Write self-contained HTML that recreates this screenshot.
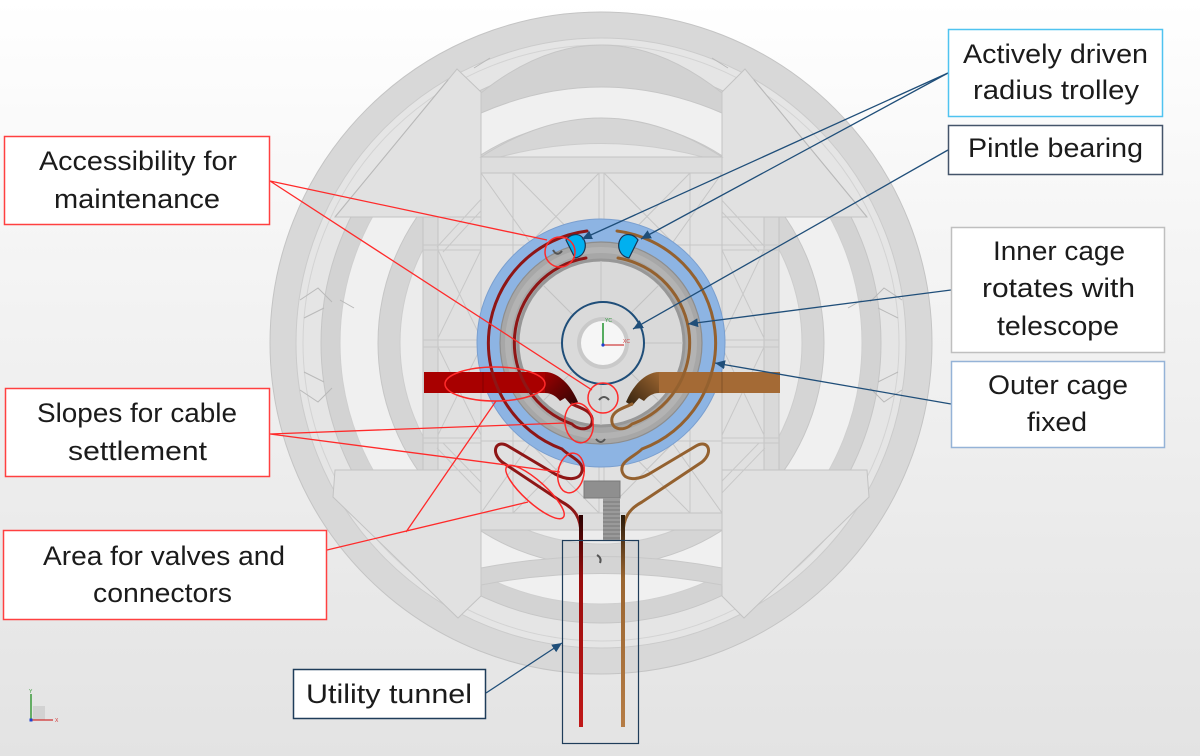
<!DOCTYPE html>
<html><head><meta charset="utf-8"><style>
html,body{margin:0;padding:0;}
body{width:1200px;height:756px;overflow:hidden;background:#fff;}
svg{display:block;}
text{font-family:"Liberation Sans",Arial,sans-serif;fill:#1b1b1b;}
</style></head><body>
<svg width="1200" height="756" viewBox="0 0 1200 756" xmlns="http://www.w3.org/2000/svg">
<defs>
<linearGradient id="bg" x1="0" y1="0" x2="0" y2="1">
<stop offset="0" stop-color="#ffffff"/>
<stop offset="0.35" stop-color="#f4f4f4"/>
<stop offset="1" stop-color="#e3e3e3"/>
</linearGradient>
<linearGradient id="wr" x1="0" y1="0" x2="1" y2="1">
<stop offset="0" stop-color="#9e0000"/>
<stop offset="1" stop-color="#2c0606"/>
</linearGradient>
<linearGradient id="wb" x1="0" y1="0" x2="1" y2="1">
<stop offset="0" stop-color="#9c6530"/>
<stop offset="1" stop-color="#33220f"/>
</linearGradient>
<linearGradient id="tr" gradientUnits="userSpaceOnUse" x1="0" y1="515" x2="0" y2="727">
<stop offset="0" stop-color="#2a0000"/>
<stop offset="0.3" stop-color="#9a0c0c"/>
<stop offset="1" stop-color="#c01818"/>
</linearGradient>
<linearGradient id="tb" gradientUnits="userSpaceOnUse" x1="0" y1="515" x2="0" y2="727">
<stop offset="0" stop-color="#2a1a0a"/>
<stop offset="0.3" stop-color="#9a6530"/>
<stop offset="1" stop-color="#b57c45"/>
</linearGradient>
<marker id="ar" markerUnits="userSpaceOnUse" markerWidth="11" markerHeight="9" refX="10" refY="4.5" orient="auto">
<path d="M0,0 L10,4.5 L0,9 Z" fill="#1f4e79"/>
</marker>
<clipPath id="inner"><circle cx="601" cy="343" r="82"/></clipPath>
</defs>

<rect width="1200" height="756" fill="url(#bg)"/>

<!-- big rings -->
<g stroke-width="1">
<circle cx="601" cy="343" r="331" fill="#d8d8d8" stroke="#c4c4c4"/>
<circle cx="601" cy="343" r="305" fill="#e5e5e5" stroke="#cbcbcb"/>
<circle cx="601" cy="343" r="298" fill="none" stroke="#d3d3d3"/>
<circle cx="601" cy="343" r="280" fill="#d3d3d3" stroke="#c6c6c6"/>
<circle cx="601" cy="343" r="261" fill="#f0f0f0" stroke="#cfcfcf"/>
<circle cx="601" cy="343" r="223" fill="#d5d5d5" stroke="#c6c6c6"/>
<circle cx="601" cy="343" r="201" fill="#ececec" stroke="#cdcdcd"/>
</g>

<!-- wings -->
<g fill="#e1e1e1" stroke="#c3c3c3" stroke-width="1">
<polygon points="457,69 481,92 481,217 335,217"/>
<polygon points="745,69 722,92 722,217 867,217"/>
<polygon points="335,470 481,470 481,596 458,618 333,497"/>
<polygon points="867,470 722,470 722,596 744,618 869,497"/>
</g>
<g stroke="#b9b9b9" stroke-width="1" fill="none">
<path d="M448,80 L335,217"/><path d="M754,80 L867,217"/>
<path d="M300,300 l18,-12 l14,14 M304,318 l20,-10 M340,300 l14,8"/>
<path d="M902,300 l-18,-12 l-14,14 M898,318 l-20,-10 M862,300 l-14,8"/>
<path d="M300,390 l18,12 l14,-14 M304,372 l20,10"/>
<path d="M902,390 l-18,12 l-14,-14 M898,372 l-20,10"/>
<path d="M490,58 l-16,10 M712,58 l16,10"/>
</g>

<!-- outer frame -->
<rect x="423" y="217" width="356" height="253" fill="#e0e0e0" stroke="#c4c4c4"/>
<rect x="423" y="217" width="15" height="253" fill="#d9d9d9" stroke="#c4c4c4"/>
<rect x="764" y="217" width="15" height="253" fill="#d9d9d9" stroke="#c4c4c4"/>
<g stroke="#c8c8c8" stroke-width="1" fill="none">
<path d="M423,245 H779 M423,250 H779 M423,340 H779 M423,347 H779 M423,438 H779 M423,443 H779"/>
<path d="M438,250 L481,338 M481,250 L438,338 M438,347 L481,435 M481,347 L438,435"/>
<path d="M764,250 L722,338 M722,250 L764,338 M764,347 L722,435 M722,347 L764,435"/>
<path d="M437,247 L508,170 M443,252 L513,176 M437,448 L508,522 M443,443 L513,515"/>
<path d="M765,247 L694,170 M759,252 L689,176 M765,448 L694,522 M759,443 L689,515"/>
</g>

<!-- top arcs between wings -->
<path d="M481,93 Q601,-3 722,93 L722,113 Q601,61 481,113 Z" fill="#d2d2d2" stroke="#c6c6c6"/>
<path d="M481,157 Q601,79 722,157 Z" fill="#d6d6d6" stroke="#c6c6c6"/>
<path d="M500,157 Q601,130 703,157 Z" fill="#e8e8e8" stroke="#cccccc"/>

<!-- inner tower -->
<rect x="481" y="157" width="241" height="373" fill="#e1e1e1" stroke="#c3c3c3"/>
<rect x="481" y="157" width="241" height="16" fill="#dddddd" stroke="#c3c3c3"/>
<rect x="481" y="513" width="241" height="17" fill="#dddddd" stroke="#c3c3c3"/>
<g stroke="#c6c6c6" stroke-width="1" fill="none">
<path d="M513,173 V513 M690,173 V513 M599,173 V513 M604,173 V513"/>
<path d="M513,173 L599,260 M599,173 L513,260 M604,173 L690,260 M690,173 L604,260"/>
<path d="M513,513 L599,426 M599,513 L513,426 M604,513 L690,426 M690,513 L604,426"/>
<path d="M481,173 L722,513 M722,173 L481,513"/>
<path d="M481,245 H722 M481,343 H722 M481,441 H722"/>
</g>

<!-- bottom arcs below tower -->
<path d="M481,568 Q601,545 722,568 L722,585 Q601,562 481,585 Z" fill="#d4d4d4" stroke="#c8c8c8"/>

<!-- blue outer cage ring -->
<circle cx="601" cy="343" r="124" fill="#8db4e3" stroke="#7a9fcf" stroke-width="1"/>
<!-- gray inner cage ring -->
<circle cx="601" cy="343" r="101" fill="#a7a7a7" stroke="#8d8d8d" stroke-width="1.2"/>
<circle cx="601" cy="343" r="93" fill="none" stroke="#b3b3b3" stroke-width="6"/>
<circle cx="601" cy="343" r="83" fill="#d9d9d9" stroke="#979797" stroke-width="3"/>
<g clip-path="url(#inner)" stroke="#c2c2c2" stroke-width="1">
<path d="M481,223 L721,463 M721,223 L481,463 M519,343 H683 M601,261 V425"/>
</g>

<!-- pintle bearing -->
<circle cx="603" cy="343" r="41" fill="#dadada" stroke="#1f4e79" stroke-width="2"/>
<circle cx="603" cy="343" r="26" fill="#c9c9c9"/>
<circle cx="603" cy="343" r="22" fill="#f6f6f6"/>
<line x1="603" y1="345" x2="603" y2="323" stroke="#2e9a3a" stroke-width="1.6"/>
<line x1="603" y1="345" x2="624" y2="345" stroke="#d04040" stroke-width="1.2"/>
<circle cx="603" cy="345" r="1.6" fill="#2040d0"/>
<text x="605" y="322" font-size="5" style="fill:#2e9a3a">YC</text>
<text x="623" y="343" font-size="5" style="fill:#d04040">XC</text>

<!-- red bar & wedge -->
<rect x="424" y="372" width="121" height="21" fill="#a80000"/>
<line x1="483" y1="372" x2="483" y2="393" stroke="#7a0000" stroke-width="0.8"/>
<path d="M545,372 C557,372 570,383 578,402 L572,406 L565,398 L560,401 C556,396 551,393 545,393 Z" fill="url(#wr)"/>

<!-- red cables -->
<g fill="none" stroke="#8e1616" stroke-width="3" stroke-linecap="round">
<path d="M587,231 A113,113 0 0 0 562,449 C570,457 584,461 582,471 C580,480 568,481 555,474 L508,446 C496,439 490,452 502,462 L562,502 C575,509 581,518 581,535"/>
<path d="M586,258 A86,86 0 0 0 572,424 C580,432 594,430 592,418 C590,410 580,408 572,404"/>
</g>
<rect x="579" y="515" width="4" height="212" fill="url(#tr)"/>
<!-- left trolley -->
<path d="M566,240 L575,258 C586,256 588,243 582,237 C578,233 570,234 566,240 Z" fill="#00b0f0" stroke="#1a3552" stroke-width="1.2"/>

<!-- brown side (mirror) -->
<g transform="translate(1204,0) scale(-1,1)">
<rect x="424" y="372" width="121" height="21" fill="#a46a35"/>
<line x1="482" y1="372" x2="482" y2="393" stroke="#7a4e24" stroke-width="0.8"/>
<path d="M545,372 C557,372 570,383 578,402 L572,406 L565,398 L560,401 C556,396 551,393 545,393 Z" fill="url(#wb)"/>
<g fill="none" stroke="#94612f" stroke-width="3" stroke-linecap="round">
<path d="M587,231 A113,113 0 0 0 562,449 C570,457 584,461 582,471 C580,480 568,481 555,474 L508,446 C496,439 490,452 502,462 L562,502 C575,509 581,518 581,535"/>
<path d="M586,258 A86,86 0 0 0 572,424 C580,432 594,430 592,418 C590,410 580,408 572,404"/>
</g>
<rect x="579" y="515" width="4" height="212" fill="url(#tb)"/>
<path d="M566,240 L575,258 C586,256 588,243 582,237 C578,233 570,234 566,240 Z" fill="#00b0f0" stroke="#1a3552" stroke-width="1.2"/>
</g>

<!-- gray block / hatched column -->
<rect x="584" y="481" width="36" height="17" fill="#8f8f8f" stroke="#7a7a7a"/>
<rect x="603" y="498" width="17" height="42" fill="#9a9a9a"/>
<g stroke="#6e6e6e" stroke-width="0.7">
<path d="M603,502 H620 M603,506 H620 M603,510 H620 M603,514 H620 M603,518 H620 M603,522 H620 M603,526 H620 M603,530 H620 M603,534 H620 M603,538 H620"/>
</g>

<!-- small brackets -->
<g fill="none" stroke="#555" stroke-width="2">
<path d="M553,250 q4,7 9,1"/>
<path d="M599,400 q5,-6 10,0"/>
<path d="M596,439 q5,6 9,0"/>
<path d="M597,555 q5,3 3,8"/>
</g>

<!-- tunnel rect -->
<rect x="562.5" y="540.5" width="76" height="203" fill="none" stroke="#1f3d5a" stroke-width="1.2"/>

<!-- red annotation ellipses -->
<g fill="none" stroke="#ff2a2a" stroke-width="1.5">
<circle cx="560" cy="252" r="15"/>
<ellipse cx="495" cy="384" rx="50" ry="17"/>
<circle cx="603" cy="398" r="15"/>
<ellipse cx="579" cy="423" rx="14" ry="20" transform="rotate(-10 579 423)"/>
<ellipse cx="571" cy="473" rx="13" ry="20" transform="rotate(10 571 473)"/>
<ellipse cx="535" cy="492" rx="38" ry="11" transform="rotate(42 535 492)"/>
</g>
<!-- red connector lines -->
<g stroke="#ff2a2a" stroke-width="1.3" fill="none">
<path d="M270,181 L547,240 M270,181 L592,390"/>
<path d="M270,434 L565,423 M270,434 L560,472"/>
<path d="M327,550 L528,502 M406,532 L496,401"/>
</g>

<!-- blue connectors -->
<g stroke="#1f4e79" stroke-width="1.3" fill="none" marker-end="url(#ar)">
<line x1="948" y1="73" x2="582" y2="239"/>
<line x1="948" y1="73" x2="641" y2="239"/>
<line x1="948" y1="150" x2="633" y2="329"/>
<line x1="951" y1="290" x2="688" y2="324"/>
<line x1="951" y1="404" x2="715" y2="363"/>
<line x1="486" y1="693" x2="562" y2="643"/>
</g>

<!-- label boxes -->
<g fill="#ffffff" stroke-width="1.5">
<rect x="4.5" y="136.5" width="265" height="88" stroke="#ff4040"/>
<rect x="5.5" y="388.5" width="264" height="88" stroke="#ff4040"/>
<rect x="3.5" y="530.5" width="323" height="89" stroke="#ff4040"/>
<rect x="948.5" y="29.5" width="214" height="87" stroke="#4fc3f0"/>
<rect x="948.5" y="125.5" width="214" height="49" stroke="#44546a"/>
<rect x="951.5" y="227.5" width="213" height="125" stroke="#bfbfbf"/>
<rect x="951.5" y="361.5" width="213" height="86" stroke="#95b3d7"/>
<rect x="293.5" y="669.5" width="192" height="49" stroke="#1f3d5a"/>
</g>

<g font-size="27">
<text x="39" y="170" textLength="198" lengthAdjust="spacingAndGlyphs">Accessibility for</text>
<text x="54" y="208" textLength="166" lengthAdjust="spacingAndGlyphs">maintenance</text>
<text x="37" y="422" textLength="200" lengthAdjust="spacingAndGlyphs">Slopes for cable</text>
<text x="68" y="460" textLength="139" lengthAdjust="spacingAndGlyphs">settlement</text>
<text x="43" y="565" textLength="242" lengthAdjust="spacingAndGlyphs">Area for valves and</text>
<text x="93" y="602" textLength="139" lengthAdjust="spacingAndGlyphs">connectors</text>
<text x="963" y="63" textLength="185" lengthAdjust="spacingAndGlyphs">Actively driven</text>
<text x="973" y="99" textLength="166" lengthAdjust="spacingAndGlyphs">radius trolley</text>
<text x="968" y="157" textLength="175" lengthAdjust="spacingAndGlyphs">Pintle bearing</text>
<text x="993" y="260" textLength="132" lengthAdjust="spacingAndGlyphs">Inner cage</text>
<text x="982" y="297" textLength="153" lengthAdjust="spacingAndGlyphs">rotates with</text>
<text x="997" y="335" textLength="122" lengthAdjust="spacingAndGlyphs">telescope</text>
<text x="988" y="394" textLength="140" lengthAdjust="spacingAndGlyphs">Outer cage</text>
<text x="1027" y="431" textLength="60" lengthAdjust="spacingAndGlyphs">fixed</text>
<text x="306" y="703" textLength="166" lengthAdjust="spacingAndGlyphs">Utility tunnel</text>
</g>

<!-- axis triad bottom-left -->
<rect x="33" y="706" width="12" height="14" fill="#d2d2d2"/>
<line x1="31" y1="720" x2="31" y2="694" stroke="#3a9a3a" stroke-width="1.5"/>
<line x1="31" y1="720" x2="53" y2="720" stroke="#d03030" stroke-width="1.2"/>
<rect x="29.5" y="718.5" width="3" height="3" fill="#2040d0"/>
<text x="29" y="693" font-size="5" style="fill:#3a9a3a">Y</text>
<text x="55" y="722" font-size="5" style="fill:#d03030">X</text>
</svg>
</body></html>
